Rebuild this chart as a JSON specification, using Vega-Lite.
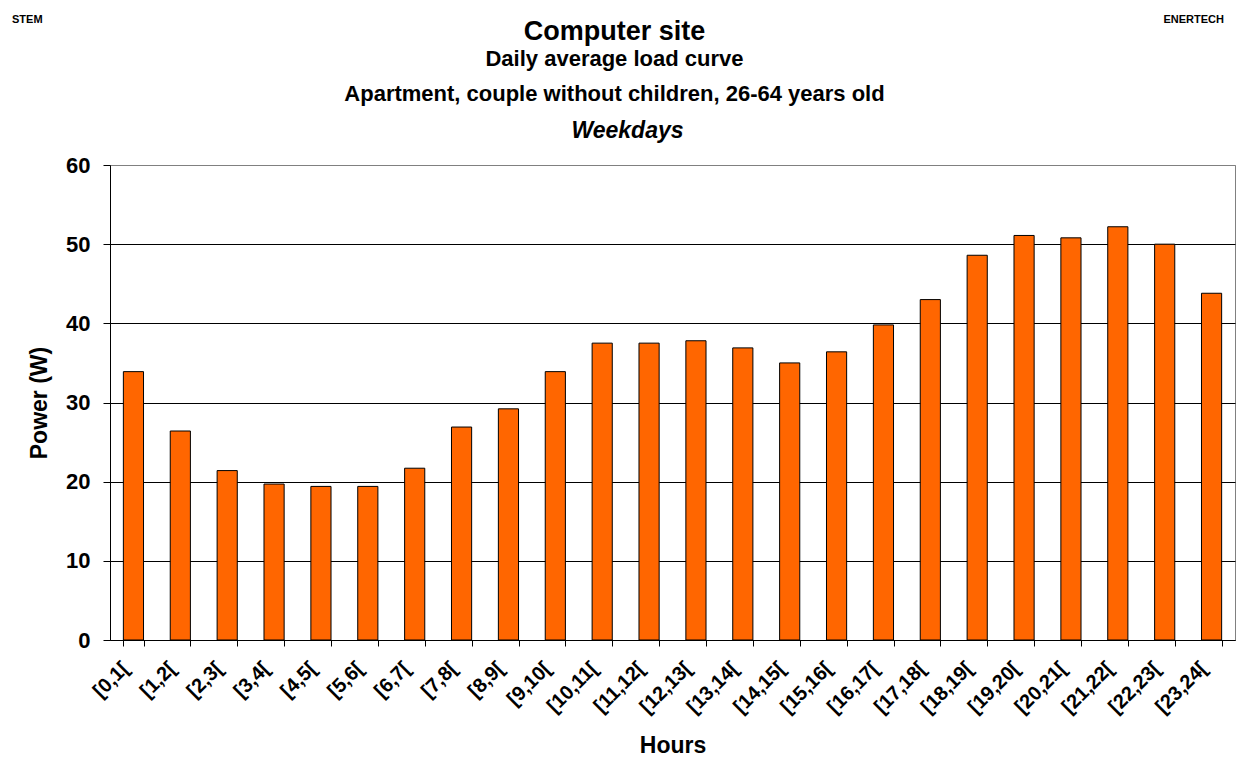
{
  "$schema": "https://vega.github.io/schema/vega-lite/v6.json",
  "width": 1125,
  "height": 475,
  "autosize": {"type": "none"},
  "padding": {"left": 110, "top": 165, "right": 12, "bottom": 133},
  "background": "white",
  "config": {
    "font": "Liberation Sans",
    "view": {"stroke": "#808080", "strokeWidth": 1},
    "axis": {"labelFont": "Liberation Sans", "titleFont": "Liberation Sans"}
  },
  "title": {
    "text": "Computer site",
    "subtitle": ["Daily average load curve", "Apartment, couple without children, 26-64 years old"],
    "font": "Liberation Sans",
    "fontSize": 27,
    "fontWeight": "bold",
    "color": "black",
    "subtitleFont": "Liberation Sans",
    "subtitleFontSize": 22,
    "subtitleFontWeight": "bold",
    "subtitleColor": "black",
    "subtitleLineHeight": 35,
    "subtitlePadding": 3,
    "anchor": "middle",
    "frame": "group",
    "dx": -58,
    "offset": -92
  },
  "datasets": {
    "load": [
      {"h": "[0,1[", "p": 33.9},
      {"h": "[1,2[", "p": 26.4},
      {"h": "[2,3[", "p": 21.4},
      {"h": "[3,4[", "p": 19.7},
      {"h": "[4,5[", "p": 19.4},
      {"h": "[5,6[", "p": 19.4},
      {"h": "[6,7[", "p": 21.7},
      {"h": "[7,8[", "p": 26.9},
      {"h": "[8,9[", "p": 29.2},
      {"h": "[9,10[", "p": 33.9},
      {"h": "[10,11[", "p": 37.5},
      {"h": "[11,12[", "p": 37.5},
      {"h": "[12,13[", "p": 37.8},
      {"h": "[13,14[", "p": 36.9},
      {"h": "[14,15[", "p": 35.0},
      {"h": "[15,16[", "p": 36.4},
      {"h": "[16,17[", "p": 39.8},
      {"h": "[17,18[", "p": 43.0},
      {"h": "[18,19[", "p": 48.6},
      {"h": "[19,20[", "p": 51.1},
      {"h": "[20,21[", "p": 50.8},
      {"h": "[21,22[", "p": 52.2},
      {"h": "[22,23[", "p": 50.0},
      {"h": "[23,24[", "p": 43.8}
    ],
    "corners": [
      {"h": "[0,1[", "label": "STEM"},
      {"h": "[23,24[", "label": "ENERTECH"}
    ]
  },
  "resolve": {"scale": {"x": "independent"}, "axis": {"x": "independent"}},
  "layer": [
    {
      "data": {"name": "load"},
      "mark": {"type": "bar", "color": "#FF6600", "stroke": "black", "strokeWidth": 1},
      "encoding": {
        "x": {
          "field": "h", "type": "nominal", "sort": null,
          "scale": {"paddingInner": 0.57, "paddingOuter": 0.285},
          "axis": {
            "orient": "bottom",
            "title": "Hours", "titleFontSize": 23, "titleFontWeight": "bold", "titleColor": "black", "titlePadding": 18,
            "labelAngle": -45, "labelAlign": "right", "labelBaseline": "middle", "labelFontSize": 20, "labelFontWeight": "bold", "labelColor": "black", "labelPadding": 19, "labelOffset": -8,
            "tickBand": "extent", "tickColor": "black", "tickSize": 6, "domainColor": "black", "grid": false
          }
        },
        "y": {
          "field": "p", "type": "quantitative",
          "scale": {"domain": [0, 60], "nice": false},
          "axis": {
            "title": "Power (W)", "titleFontSize": 23, "titleFontWeight": "bold", "titleColor": "black", "titlePadding": 14,
            "values": [0, 10, 20, 30, 40, 50, 60], "labelFontSize": 22, "labelFontWeight": "bold", "labelColor": "black", "labelPadding": 13,
            "tickColor": "black", "tickSize": 7, "domainColor": "black",
            "gridColor": {"condition": {"test": "datum.value == 60", "value": "#808080"}, "value": "black"},
            "gridWidth": 1, "gridOpacity": 1
          }
        }
      }
    },
    {
      "data": {"name": "corners"},
      "transform": [{"filter": "datum.label == 'STEM'"}],
      "mark": {"type": "text", "align": "left", "baseline": "middle", "fontSize": 11, "fontWeight": "bold", "color": "black", "dx": -98, "dy": -145},
      "encoding": {
        "x": {
          "field": "h", "type": "nominal", "bandPosition": 0,
          "scale": {"type": "band", "domain": ["[0,1["], "paddingInner": 0, "paddingOuter": 0},
          "axis": {"orient": "top", "title": "Weekdays", "titleFontSize": 23, "titleFontWeight": "bold", "titleFontStyle": "italic", "titleColor": "black", "titlePadding": 23, "titleX": 517, "labels": false, "ticks": false, "domain": false, "grid": false}
        },
        "y": {"datum": 60, "type": "quantitative"},
        "text": {"field": "label"}
      }
    },
    {
      "data": {"name": "corners"},
      "transform": [{"filter": "datum.label == 'ENERTECH'"}],
      "mark": {"type": "text", "align": "right", "baseline": "middle", "fontSize": 11, "fontWeight": "bold", "color": "black", "dx": -11, "dy": -145},
      "encoding": {
        "x": {
          "field": "h", "type": "nominal", "bandPosition": 1,
          "scale": {"type": "band", "domain": ["[23,24["], "paddingInner": 0, "paddingOuter": 0},
          "axis": null
        },
        "y": {"datum": 60, "type": "quantitative"},
        "text": {"field": "label"}
      }
    }
  ]
}
